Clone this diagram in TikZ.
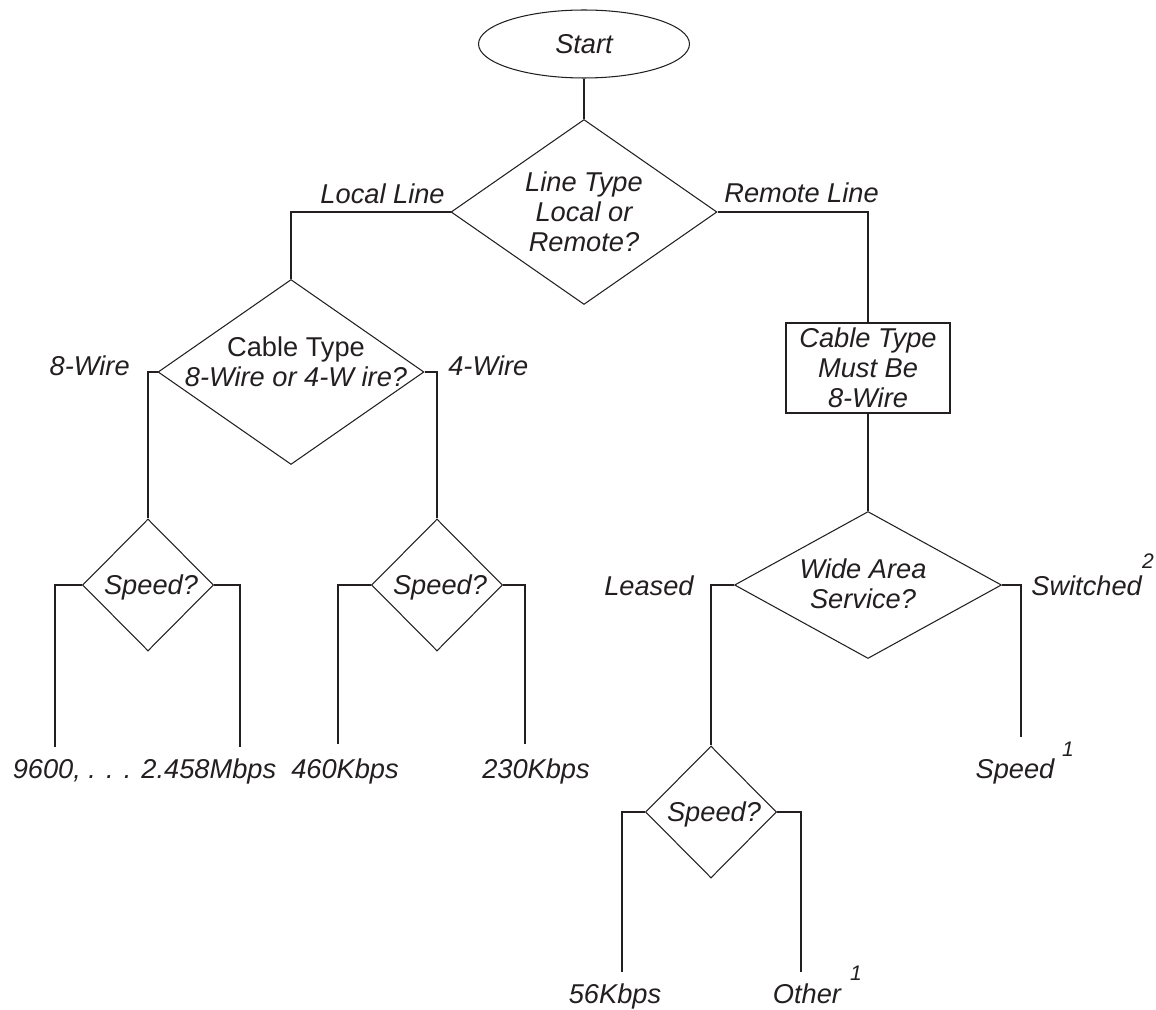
\documentclass[tikz,border=0pt]{standalone}
\usepackage{fontspec}
\setmainfont{Liberation Sans}
\usetikzlibrary{shapes.geometric}
\definecolor{ink}{RGB}{35,31,32}
\begin{document}
\begin{tikzpicture}[x=0.02cm,y=-0.02cm,
  every node/.style={text=ink},
  wire/.style={draw=ink,line width=0.6pt},
  dia/.style={diamond,draw=ink,line width=0.6pt,inner sep=0pt},
  txt/.style={font=\fontsize{15.5}{17}\selectfont\itshape,align=center,inner sep=0pt},
  lbl/.style={font=\fontsize{15.5}{17}\selectfont\itshape,inner sep=0pt},
  sup/.style={font=\fontsize{12}{12}\selectfont\itshape,inner sep=0pt,anchor=base}]
\useasboundingbox (0,0) rectangle (1156,1010);

% shapes
\node[ellipse,draw=ink,line width=0.6pt,minimum width=4.22cm,minimum height=1.36cm,txt] (start) at (584,44) {Start};
\node[dia,minimum width=5.32cm,minimum height=3.70cm] (d1) at (584,212) {};
\node[txt] (d1t) at (584,212) {Line Type\\Local or\\Remote?};
\node[dia,minimum width=5.32cm,minimum height=3.70cm] (d2) at (291,372) {};
\node[txt] (d2t) at (296,362) {{\upshape Cable Type}\\8-Wire or 4-W ire?};
\node[draw=ink,line width=0.6pt,minimum width=3.28cm,minimum height=1.80cm,txt] (box) at (868,368) {Cable Type\\Must Be\\8-Wire};
\node[dia,minimum width=5.34cm,minimum height=2.94cm] (d3) at (868,585) {};
\node[txt] (d3t) at (863,584) {Wide Area\\Service?};
\node[dia,minimum width=2.62cm,minimum height=2.64cm] (s1) at (148,585) {};
\node[txt] (s1t) at (151,587) {Speed?};
\node[dia,minimum width=2.62cm,minimum height=2.64cm] (s2) at (437,585) {};
\node[txt] (s2t) at (440,587) {Speed?};
\node[dia,minimum width=2.62cm,minimum height=2.64cm] (s3) at (711,812) {};
\node[txt] (s3t) at (714,814) {Speed?};

% free ends
\coordinate (e1) at (55,747);
\coordinate (e2) at (240,747);
\coordinate (e3) at (338,744);
\coordinate (e4) at (525,744);
\coordinate (e5) at (1021,737);
\coordinate (e6) at (622,972);
\coordinate (e7) at (801,972);

% connectors
\draw[wire] (start) -- (d1);
\draw[wire] (d1.west) -| (d2.north);
\draw[wire] (d1.east) -| (box.north);
\draw[wire] (box) -- (d3);
\draw[wire] (d2.west) -| (s1.north);
\draw[wire] (d2.east) -| (s2.north);
\draw[wire] (s1.west) -| (e1);
\draw[wire] (s1.east) -| (e2);
\draw[wire] (s2.west) -| (e3);
\draw[wire] (s2.east) -| (e4);
\draw[wire] (d3.west) -| (s3.north);
\draw[wire] (d3.east) -| (e5);
\draw[wire] (s3.west) -| (e6);
\draw[wire] (s3.east) -| (e7);

% labels
\node[lbl,anchor=base east] (lLocal) at (445,204) {Local Line};
\node[lbl,anchor=base west] (lRemote) at (724,203) {Remote Line};
\node[lbl,anchor=base east] (l8) at (130,375) {8-Wire};
\node[lbl,anchor=base west] (l4) at (448,375) {4-Wire};
\node[lbl,anchor=base east] (lLeased) at (694,595) {Leased};
\node[lbl,anchor=base west] (lSw) at (1031,595) {Switched};
\node[sup] (lSw2) at (1148,568) {2};
\node[lbl,anchor=base] (o1) at (144.5,778) {9600, . . . 2.458Mbps};
\node[lbl,anchor=base] (o2) at (345,778) {460Kbps};
\node[lbl,anchor=base] (o3) at (536,778) {230Kbps};
\node[lbl,anchor=base] (o4) at (1015,778) {Speed};
\node[sup] (o4s) at (1068,756) {1};
\node[lbl,anchor=base] (o5) at (615,1003) {56Kbps};
\node[lbl,anchor=base] (o6) at (807,1003) {Other};
\node[sup] (o6s) at (856,980) {1};
\end{tikzpicture}
\end{document}
